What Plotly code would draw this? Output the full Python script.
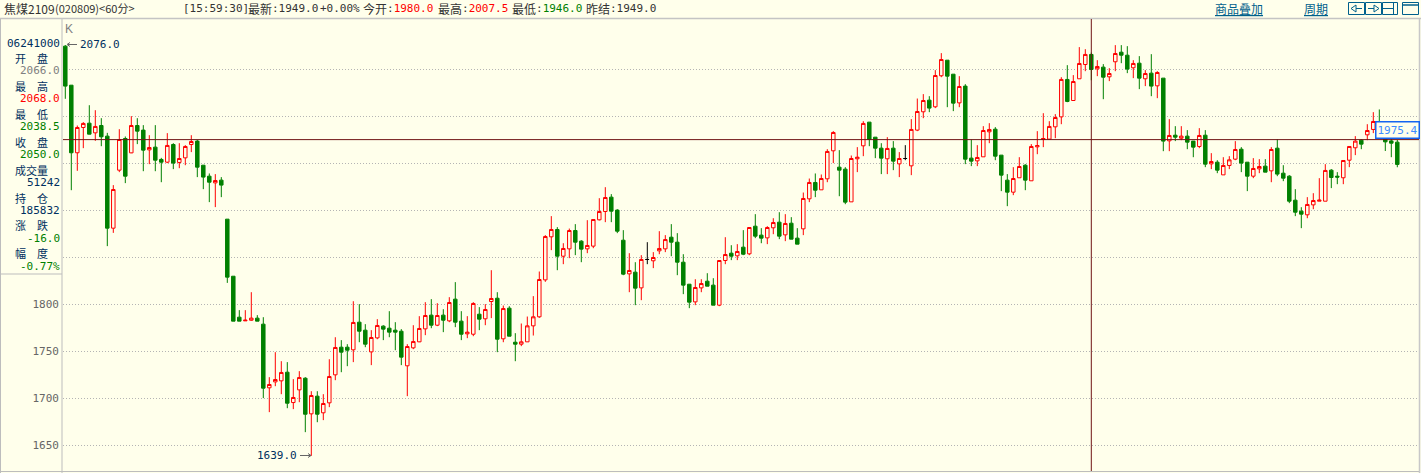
import plotly.graph_objects as go

opens = [2074.8, 2033.3, 1961.4, 1988.3, 1992.9, 1982.6, 1990.4, 1979.1, 1881.2, 1942.9,
         1976.6, 1961.3, 1990.4, 1985.5, 1964.5, 1967.4, 1954.3, 1951.4, 1970.2, 1951.1,
         1956, 1970.2, 1973.8, 1948.2, 1936.5, 1929.4, 1932.3, 1890.8, 1830.1, 1786.5,
         1782.6, 1783.3, 1785.5, 1779.1, 1711.4, 1717.7, 1718.8, 1728, 1695.7, 1709.2,
         1721.6, 1683.7, 1702.5, 1684.8, 1695.4, 1725.2, 1754.6, 1754.6, 1751.8, 1781.2,
         1772.7, 1749.6, 1764.5, 1777, 1774.8, 1772.7, 1771.6, 1734.8, 1753.9, 1760.3,
         1774.1, 1788.7, 1778, 1788.7, 1782.6, 1805.7, 1782.3, 1768.8, 1768.4, 1789.7,
         1784.8, 1803.2, 1806.7, 1763.5, 1796.1, 1759.9, 1757.8, 1760.3, 1777.3, 1786.9,
         1826.2, 1872, 1879.8, 1851.4, 1859.2, 1878.7, 1867.4, 1859.2, 1862.1, 1890.1,
         1898.9, 1914.2, 1900.4, 1868.4, 1832.6, 1834.4, 1817.7, 1847.9, 1846.5, 1857.1,
         1859.2, 1871.6, 1866.3, 1845, 1821.6, 1802.8, 1817.7, 1824.8, 1820.6, 1799.3,
         1846.8, 1854.6, 1851.8, 1861, 1853.9, 1883.3, 1873.8, 1870.9, 1881.6, 1887.6,
         1874.1, 1886.5, 1870.6, 1880.5, 1912.4, 1929.8, 1922, 1933.7, 1963.5, 1946.1,
         1944, 1909.2, 1955, 1968.8, 1994, 1978, 1966.3, 1955, 1966.3, 1949.6,
         1955.3, 1947.5, 1985.5, 2005, 2017.4, 2010.3, 2043.3, 2059.9, 2045, 2014.5,
         2032.3, 1955.7, 1952.8, 1957.1, 1983.7, 1986.5, 1958.9, 1932.3, 1919.5, 1934.8,
         1948.2, 1931.6, 1967.7, 1975.5, 1975.9, 1989, 1999.6, 2039.4, 2017, 2040.1,
         2055.3, 2066, 2050.7, 2052.5, 2042.2, 2058.2, 2068.4, 2065.2, 2051.8, 2056.7,
         2040.1, 2046.1, 2032.6, 2040.8, 1974.1, 1980.1, 1976.9, 1979.1, 1973.8, 1968.1,
         1980.1, 1949.6, 1951.4, 1937.9, 1947.9, 1954.6, 1965.2, 1951.4, 1936.5, 1944.3,
         1947.2, 1942.2, 1966.3, 1939.7, 1936.5, 1911, 1899.3, 1895.4, 1906, 1909.9,
         1909.9, 1942.9, 1936.5, 1934.8, 1953.5, 1966.7, 1974.8, 1980.5, 1986.2, 1990,
         1982, 1974, 1972.7]
highs = [2076, 2033.5, 1990.4, 1994, 2012, 2006.7, 1998.2, 1982.6, 1927, 1986.5,
         1978.7, 2000.4, 1998.2, 1990.8, 1980.1, 1990.8, 1956, 1982.3, 1971.6, 1971.6,
         1969.5, 1980.1, 1975, 1948.2, 1939.4, 1938.7, 1935.5, 1890.8, 1830.1, 1794,
         1794, 1813.1, 1788.7, 1786.5, 1722.7, 1749.3, 1739.7, 1738.7, 1720.6, 1729.1,
         1722.7, 1707.8, 1707.8, 1704.6, 1741.8, 1765.2, 1762.1, 1757.8, 1803.5, 1800.4,
         1779.1, 1772.7, 1784.4, 1778, 1792.9, 1781.2, 1773.8, 1757.8, 1778, 1787.6,
         1802.5, 1805.7, 1801.4, 1795, 1807.8, 1823.8, 1792.9, 1787.6, 1802.5, 1797.2,
         1800.4, 1836.5, 1813.1, 1798.9, 1798.2, 1769.5, 1779.8, 1787.2, 1808.9, 1835.1,
         1873.8, 1894, 1882.3, 1865.2, 1880.8, 1885.5, 1868.4, 1889.7, 1890.4, 1913.1,
         1924.8, 1917.4, 1901.4, 1879.1, 1854.6, 1845, 1852.5, 1866.3, 1855.7, 1878,
         1873.8, 1885.5, 1875.9, 1853.5, 1821.6, 1826.9, 1826.9, 1833.3, 1828, 1846.8,
         1871.6, 1863.1, 1864.2, 1879.1, 1881.9, 1896.1, 1881.2, 1883.3, 1891.8, 1898.2,
         1896.1, 1892.9, 1881.2, 1919.1, 1934, 1939.4, 1938.3, 1965.2, 1984.4, 1964.2,
         1946.1, 1958.5, 1967.4, 1995, 1994, 1978, 1971.6, 1978, 1973.8, 1962.1,
         1969.5, 1997.2, 2019.1, 2023.8, 2021.6, 2049.3, 2067.4, 2059.9, 2045, 2042.9,
         2034.4, 1975.5, 1969.5, 1989.7, 1992.9, 1988.7, 1958.9, 1938.7, 1946.1, 1956.7,
         1949.3, 1970.6, 1984.4, 2003.5, 1995, 2002.5, 2041.8, 2054.6, 2044, 2073.8,
         2071.6, 2068, 2059.9, 2055.7, 2051.4, 2075.9, 2075.9, 2074.8, 2059.9, 2064.2,
         2049.3, 2066.3, 2048.2, 2040.8, 1997.2, 1989.7, 1989.7, 1985.5, 1973.8, 1987.6,
         1985.5, 1961, 1953.5, 1956.7, 1957.8, 1973.8, 1967.4, 1951.4, 1955.7, 1954.6,
         1954.6, 1967.4, 1975.9, 1948.2, 1937.6, 1922.7, 1903.5, 1914.2, 1918.4, 1934.4,
         1949.3, 1944, 1940.8, 1953.2, 1968.1, 1979.1, 1975.9, 1991.8, 2004.6, 2007.5,
         1986, 1976, 1975]
lows = [2018.8, 1921.6, 1942.2, 1966.3, 1981, 1974.1, 1968.4, 1862.1, 1876.2, 1940.8,
        1929.1, 1961, 1970.6, 1941.8, 1949.3, 1941.8, 1930.1, 1950.4, 1944, 1945,
        1948.2, 1962.1, 1935.5, 1922.7, 1908.9, 1903.6, 1914.2, 1823, 1782.3, 1782.3,
        1782.6, 1782.6, 1782.3, 1700.4, 1685.5, 1713.1, 1704.6, 1689.7, 1688.7, 1696.1,
        1664.2, 1639, 1674.8, 1677, 1690.8, 1719.5, 1728, 1734.4, 1738.7, 1759.9,
        1754.6, 1735.5, 1763.1, 1762.1, 1765.2, 1751.4, 1735.5, 1702.5, 1752.5, 1760,
        1767.4, 1774.8, 1777, 1770.6, 1781.2, 1775.9, 1762.1, 1764.2, 1766.3, 1772.7,
        1778, 1785.5, 1749.3, 1759.9, 1766.3, 1739.7, 1755.7, 1760.3, 1767, 1785.8,
        1824.1, 1857.8, 1836.5, 1842.9, 1849.3, 1852.5, 1845, 1854.6, 1859.9, 1889.4,
        1887.6, 1887.6, 1875.9, 1831.2, 1813.1, 1799.3, 1804.6, 1842.9, 1838.7, 1853.5,
        1855.7, 1851.4, 1831.2, 1811, 1796.1, 1799.3, 1813.1, 1819.5, 1799.3, 1798.2,
        1842.9, 1847.2, 1847.2, 1852.5, 1852.5, 1870.6, 1865.2, 1864.2, 1874.8, 1869.5,
        1867.4, 1869.5, 1864.2, 1873.8, 1908.9, 1914.2, 1922, 1930.1, 1950.4, 1915.2,
        1906.7, 1909.2, 1940.8, 1957.8, 1968.4, 1955.7, 1938.7, 1938.7, 1942.9, 1935.5,
        1953.5, 1937.6, 1984.4, 1998.2, 2004.6, 2008.9, 2041.8, 2009.9, 2005.7, 2009.9,
        1949.3, 1947.2, 1947.2, 1957.1, 1971.6, 1953.5, 1920.6, 1904.6, 1916.3, 1934.8,
        1921.6, 1931.6, 1959.9, 1967.4, 1975.9, 1976.9, 1991.8, 2015.2, 2017, 2040.1,
        2048.2, 2038.5, 2042.9, 2018.4, 2037.6, 2048.2, 2056.7, 2046.1, 2040.8, 2029.1,
        2032.3, 2021.6, 2019.5, 1963.1, 1963.1, 1973.8, 1974.8, 1965.2, 1956.7, 1966.3,
        1946.1, 1944, 1939.7, 1937.9, 1944, 1953.5, 1940.8, 1920.6, 1934.4, 1939.7,
        1940.8, 1930.1, 1936.5, 1931.2, 1907.8, 1894, 1881.2, 1891.8, 1901.4, 1909.9,
        1909.9, 1923.8, 1928, 1928, 1946.1, 1958.9, 1965.2, 1974.8, 1982.3, 1980,
        1963.3, 1956.7, 1946]
closes = [2032.3, 1961.4, 1988.3, 1992.6, 1981.2, 1989.4, 1978.4, 1881.2, 1922.3, 1975.5,
          1936.5, 1990.4, 1984.4, 1964.2, 1967, 1953.5, 1951.4, 1969.2, 1950.4, 1955.3,
          1968.1, 1973.4, 1946.1, 1935.5, 1930.1, 1931.9, 1927, 1829.1, 1782.3, 1782.3,
          1783.3, 1785.5, 1782.3, 1711, 1714.9, 1720.2, 1727.7, 1695, 1701.1, 1722.3,
          1683.3, 1703.2, 1683.3, 1694.7, 1723.4, 1754.3, 1749.3, 1751.4, 1780.9, 1771.6,
          1757.8, 1764.9, 1777.7, 1773.8, 1770.6, 1770.6, 1744, 1755.3, 1760.6, 1774.5,
          1788.3, 1778, 1788.3, 1783.3, 1802.1, 1781.2, 1768.4, 1770.6, 1801.1, 1784.4,
          1794.7, 1806.4, 1763.1, 1795.7, 1766.3, 1757.8, 1760.3, 1777.3, 1786.9, 1826.6,
          1872.3, 1879.8, 1851.4, 1859.6, 1878.7, 1866.3, 1858.9, 1862.8, 1890.4, 1898.9,
          1913.8, 1899.3, 1878, 1832.3, 1836.2, 1817.4, 1847.9, 1847.9, 1850, 1859.6,
          1869.1, 1866.3, 1845, 1820.6, 1802.5, 1818.1, 1822.3, 1819.5, 1799.3, 1846.8,
          1853.2, 1851.4, 1856.4, 1853.5, 1881.9, 1872.7, 1870.6, 1881.9, 1887.2, 1872.7,
          1886.2, 1869.5, 1864.2, 1912.8, 1929.8, 1921.6, 1934, 1962.8, 1983, 1942.9,
          1908.9, 1955.3, 1956.7, 1992.6, 1975.5, 1966.3, 1955.7, 1966, 1952.5, 1955.3,
          1955.3, 1986.2, 2005.3, 2017, 2008.9, 2043.6, 2060.6, 2042.9, 2014.2, 2031.9,
          1954.6, 1952.5, 1956.4, 1985.1, 1986.2, 1957.8, 1937.6, 1919.5, 1934, 1946.8,
          1932.3, 1968.1, 1969.1, 1976.6, 1989.4, 1998.9, 2039.4, 2016, 2037.2, 2056.4,
          2066, 2050, 2053.2, 2041.8, 2045.7, 2067, 2065.2, 2050.4, 2056.4, 2040.8,
          2045.7, 2032.3, 2046.8, 1973.8, 1979.8, 1978, 1979.1, 1972.7, 1967.4, 1979.8,
          1949.3, 1952.1, 1942.9, 1947.9, 1953.9, 1964.9, 1950.4, 1936.5, 1944.7, 1946.8,
          1940.8, 1964.9, 1938.7, 1934.4, 1909.9, 1898.2, 1896.1, 1906.4, 1910.6, 1911,
          1942.6, 1935.1, 1935.5, 1953.2, 1968.1, 1973.8, 1970.6, 1985.1, 1994.7, 1982,
          1973, 1971.6, 1949]

# the two bars where open equals close are drawn black in the source
doji_bars = [97, 140]

grid_levels = [1650, 1700, 1750, 1800, 1850, 1900, 1950, 2000, 2050]
tick_labels = ["1650", "1700", "1750", "1800", "", "", "", "", ""]

cross_bar = 171
cross_price = 1975.4

panel_labels = ["开　盘", "最　高", "最　低", "收　盘", "成交量", "持　仓", "涨　跌", "幅　度"]
panel_values = ["2066.0", "2068.0", "2038.5", "2050.0", "51242", "185832", "-16.0", "-0.77%"]
panel_colors = ["#808080", "#FF0000", "#008000", "#008000", "#003060", "#003060", "#008000", "#008000"]

BG = "#FFFFEB"
RED = "#FF0000"
GREEN = "#008000"
NAVY = "#003060"
LINK = "#00608C"
EDGE = "#BDBDBD"
MONO = "DejaVu Sans Mono"
CJK = "Noto Sans CJK SC"

W, H = 1421, 473
L, R, T, B = 63, 2, 19, 2


# layout helpers: page pixels to paper fractions
def px(x):
    return (x - L) / (W - L - R)


def py(y):
    return 1 - (y - T) / (H - T - B)


def label(x, y, text, color="#333333", size=11, font=MONO, anchor="left"):
    return dict(xref="paper", yref="paper", x=px(x), y=py(y), text=text, showarrow=False,
                xanchor=anchor, yanchor="middle", borderpad=0, xshift=0,
                font=dict(family=font, size=size, color=color))


def line(x0, y0, x1, y1, color=EDGE, width=1):
    return dict(type="line", xref="paper", yref="paper", x0=px(x0), y0=py(y0), x1=px(x1), y1=py(y1),
                line=dict(color=color, width=width), layer="above")


def path(points, color=LINK, width=1):
    d = "M" + " L".join(f"{px(a)},{py(b)}" for a, b in points)
    return dict(type="path", xref="paper", yref="paper", path=d, line=dict(color=color, width=width), layer="above")


plain = [i for i in range(len(opens)) if i not in doji_bars]

fig = go.Figure()
fig.add_trace(go.Candlestick(
    x=plain,
    open=[opens[i] for i in plain],
    high=[highs[i] for i in plain],
    low=[lows[i] for i in plain],
    close=[closes[i] for i in plain],
    whiskerwidth=0,
    increasing=dict(line=dict(color=RED, width=1), fillcolor=BG),
    decreasing=dict(line=dict(color=GREEN, width=1), fillcolor=GREEN),
    showlegend=False,
    hoverinfo="skip",
))
fig.add_trace(go.Candlestick(
    x=doji_bars,
    open=[opens[i] for i in doji_bars],
    high=[highs[i] for i in doji_bars],
    low=[lows[i] for i in doji_bars],
    close=[closes[i] for i in doji_bars],
    whiskerwidth=0,
    increasing=dict(line=dict(color="#000000", width=1), fillcolor="#000000"),
    decreasing=dict(line=dict(color="#000000", width=1), fillcolor="#000000"),
    showlegend=False,
    hoverinfo="skip",
))

shapes = [
    line(0, 18.5, W, 18.5, "#C4C4C4", 1.5),
    line(0.5, 19, 0.5, H, EDGE),
    line(62, 19, 62, H, EDGE),
    line(0, 274, 62, 274, EDGE),
    line(0, 471.5, 1420, 471.5, EDGE),
    line(1419.5, 19, 1419.5, H, "#C8C8C8", 1.5),
    # crosshair
    dict(type="line", xref="x", yref="paper", x0=cross_bar, x1=cross_bar, y0=0, y1=1,
         line=dict(color="#701414", width=1), layer="above"),
    dict(type="line", xref="paper", yref="y", x0=0, x1=1, y0=cross_price, y1=cross_price,
         line=dict(color="#701414", width=1), layer="above"),
    # arrows at the high and low marks
    line(68, 44.5, 77, 44.5, "#666666"),
    path([(70, 42.5), (67, 44.5), (70, 46.5)], "#666666"),
    line(300, 455.5, 311, 455.5, "#666666"),
    path([(308, 453.5), (311, 455.5), (308, 457.5)], "#666666"),
    # toolbar buttons
    path([(1348.5, 2.5), (1364.5, 2.5), (1364.5, 14.5), (1348.5, 14.5), (1348.5, 2.5)]),
    path([(1362, 8.5), (1356, 8.5), (1356, 5), (1351, 8.5), (1356, 12), (1356, 8.5)]),
    path([(1365.5, 2.5), (1381.5, 2.5), (1381.5, 14.5), (1365.5, 14.5), (1365.5, 2.5)]),
    path([(1368, 8.5), (1374, 8.5), (1374, 5), (1379, 8.5), (1374, 12), (1374, 8.5)]),
    path([(1382.5, 2.5), (1397.5, 2.5), (1397.5, 14.5), (1382.5, 14.5), (1382.5, 2.5)]),
    line(1382.5, 8.5, 1393, 8.5, LINK),
    line(1393.5, 2.5, 1393.5, 14.5, LINK),
    path([(1402.5, 2.5), (1418.5, 2.5), (1418.5, 14.5), (1402.5, 14.5), (1402.5, 2.5)]),
    line(1402.5, 5, 1418.5, 5, LINK, 1.5),
]

annotations = [
    label(3, 8, "焦煤2109", "#333333", 12, CJK),
    label(54, 8, "(020809)&lt;60分&gt;", "#333333", 11, CJK),
    label(182, 8, "[15:59:30]"),
    label(247, 8, "最新", size=12, font=CJK),
    label(271, 8, ":1949.0"),
    label(319, 8, "+0.00%"),
    label(362, 8, "今开", size=12, font=CJK),
    label(386, 8, ":<span style='color:#FF0000'>1980.0</span>"),
    label(437, 8, "最高", size=12, font=CJK),
    label(461, 8, ":<span style='color:#FF0000'>2007.5</span>"),
    label(511, 8, "最低", size=12, font=CJK),
    label(535, 8, ":<span style='color:#008000'>1946.0</span>"),
    label(585, 8, "昨结", size=12, font=CJK),
    label(609, 8, ":1949.0"),
    label(1214, 8, "<u>商品叠加</u>", LINK, 12, CJK),
    label(1303, 8, "<u>周期</u>", LINK, 12, CJK),
    label(64, 29, "K", "#808080", 12, "Liberation Sans"),
    label(79, 44.5, "2076.0", NAVY, 11),
    label(256, 455.5, "1639.0", NAVY, 11),
    label(61, 43.5, "06241000", NAVY, 11, anchor="right"),
]
for n, (lab, val, col) in enumerate(zip(panel_labels, panel_values, panel_colors)):
    annotations.append(label(31, 57.5 + 28 * n, lab, NAVY, 11, CJK, anchor="center"))
    annotations.append(label(61, 70.5 + 28 * n, val, col, 11, anchor="right"))
annotations.append(dict(
    xref="paper", yref="paper", x=px(1397), y=py(130), text="1975.4", showarrow=False,
    xanchor="center", yanchor="middle", bgcolor=BG, bordercolor="#1464F0", borderwidth=1.5, borderpad=1,
    font=dict(family=MONO, size=11, color="#3C8CFF"),
))

fig.update_layout(
    width=W,
    height=H,
    margin=dict(l=L, r=R, t=T, b=B),
    paper_bgcolor=BG,
    plot_bgcolor=BG,
    boxgap=0.17,
    hovermode=False,
    shapes=shapes,
    annotations=annotations,
    xaxis=dict(
        range=[(L - 65.3) / 6, (W - R - 65.3) / 6],
        rangeslider=dict(visible=False),
        showgrid=False, zeroline=False, showticklabels=False, ticks="",
    ),
    yaxis=dict(
        range=[1622.9, 2103.7],
        tickvals=grid_levels,
        ticktext=tick_labels,
        tickfont=dict(family=MONO, size=11, color="#666666"),
        ticks="",
        ticklabelstandoff=3,
        showgrid=True,
        gridcolor="#B4B4B4",
        griddash="1px,2px",
        gridwidth=1,
        zeroline=False,
    ),
)

fig.write_html("out.html", config=dict(displayModeBar=False),
               post_script="document.body.style.margin='0';document.body.style.overflow='hidden';")
